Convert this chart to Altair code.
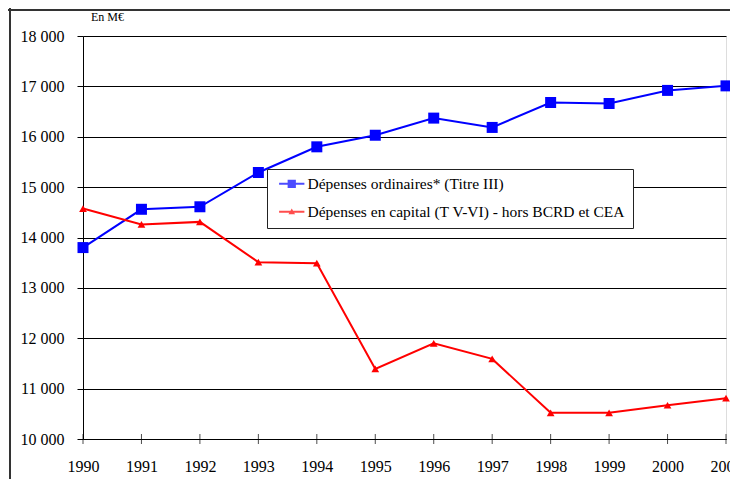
import altair as alt
import pandas as pd

years = list(range(1990, 2002))
ordinaires = [13800, 14560, 14610, 15290, 15800, 16030, 16370, 16185, 16680, 16660, 16920, 17010]
capital = [14575, 14260, 14310, 13510, 13490, 11390, 11900, 11590, 10520, 10520, 10670, 10810]
series_names = ["Dépenses ordinaires* (Titre III)",
                "Dépenses en capital (T V-VI) - hors BCRD et CEA"]
series_colors = ["#0000FF", "#FF0000"]
y_ticks = list(range(10000, 18001, 1000))
unit_label = ["En M€"]

rows = []
for y, v in zip(years, ordinaires):
    rows.append({"annee": y, "valeur": v, "serie": series_names[0]})
for y, v in zip(years, capital):
    rows.append({"annee": y, "valeur": v, "serie": series_names[1]})
df = pd.DataFrame(rows)
tick_df = pd.DataFrame({"annee": years, "valeur": [10000] * len(years)})

FONT = "Times New Roman, Liberation Serif, serif"

x_enc = alt.X("annee:Q", scale=alt.Scale(domain=[1990, 2001], nice=False, zero=False),
              axis=alt.Axis(values=years, format="d", title=None, ticks=False,
                            labelFont=FONT, labelFontSize=16, labelColor="black",
                            labelPadding=19, domainColor="black", grid=False,
                            labelFlush=False, labelOverlap=False))
y_enc = alt.Y("valeur:Q", scale=alt.Scale(domain=[10000, 18000], nice=False, zero=False),
              axis=alt.Axis(values=y_ticks, title=None,
                            labelExpr="replace(format(datum.value, ','), ',', ' ')",
                            labelFont=FONT, labelFontSize=16, labelColor="black",
                            labelPadding=13, tickSize=6, tickColor="black",
                            domainColor="black", gridColor="black", gridWidth=1))

base = alt.Chart(df)
layers = []
frame_top = alt.Chart(alt.Data(values=[{}])).mark_rule(
    stroke="#333333", strokeWidth=2
).encode(x=alt.value(-75), x2=alt.value(720), y=alt.value(-26))
frame_left = alt.Chart(alt.Data(values=[{}])).mark_rule(
    stroke="#333333", strokeWidth=2
).encode(x=alt.value(-73), y=alt.value(-28), y2=alt.value(480))
layers += [frame_top, frame_left]

marker_shapes = ["square", "triangle-up"]
marker_sizes = [121, 60]
for name, col, shp, sz in zip(series_names, series_colors, marker_shapes, marker_sizes):
    sub = base.transform_filter(alt.datum.serie == name)
    layers.append(sub.mark_line(strokeWidth=2, color=col).encode(x=x_enc, y=y_enc))
    layers.append(sub.mark_point(filled=True, opacity=1, size=sz, shape=shp, color=col)
                  .encode(x="annee:Q", y="valeur:Q"))

legend = alt.Legend(
    title=None, orient="none", legendX=184, legendY=133,
    fillColor="white", strokeColor="#222222", padding=7,
    labelFont=FONT, labelFontSize=15.5, labelColor="black", labelLimit=0,
    symbolSize=121, symbolOffset=10, labelOffset=8, rowPadding=11,
)
legend_layer = base.mark_point(filled=True, size=0).encode(
    x="annee:Q", y="valeur:Q",
    color=alt.Color("serie:N", scale=alt.Scale(domain=series_names, range=series_colors),
                    legend=legend),
    shape=alt.Shape("serie:N", scale=alt.Scale(
        domain=series_names,
        range=["M-2.3,-0.18H2.3V0.18H-2.3ZM-0.75,-0.75H0.75V0.75H-0.75Z",
               "M-2.3,-0.18H2.3V0.18H-2.3ZM0,-0.6L0.6,0.45H-0.6Z"]),
        legend=legend),
)
layers.append(legend_layer)

xticks = alt.Chart(tick_df).mark_tick(orient="vertical", size=10, thickness=1, color="black").encode(
    x="annee:Q", y="valeur:Q"
)
layers.append(xticks)

unit_text = alt.Chart(pd.DataFrame({"t": unit_label})).mark_text(
    font=FONT, fontSize=12, color="black", align="left", baseline="middle"
).encode(text="t:N", x=alt.value(8), y=alt.value(-19))
layers.append(unit_text)

chart = alt.layer(*layers).properties(
    width=643, height=403,
    autosize=alt.AutoSizeParams(type="none"),
    padding={"left": 75, "top": 28, "right": 4, "bottom": 40},
).configure_view(fill="#E0E0E0", stroke="#808080", strokeWidth=1
).configure_axis(labelFont=FONT
).configure(background="white")

chart.save("out.html", embed_options={"renderer": "svg", "actions": False})
